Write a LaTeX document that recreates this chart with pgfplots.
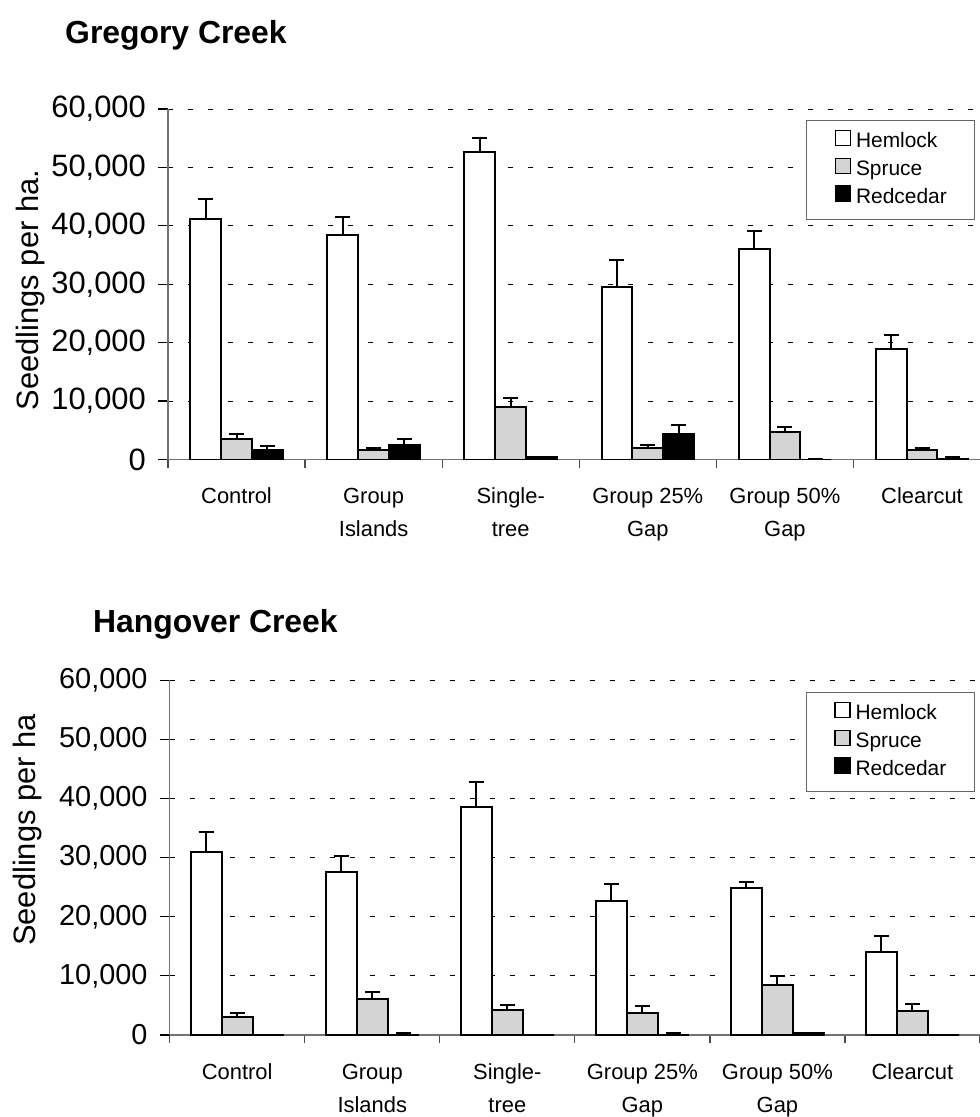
\documentclass[border=0pt]{standalone}
\usepackage{fontspec}
\setmainfont{Liberation Sans}
\usepackage{pgfplots}
\usepackage{pgfplotstable}
\pgfplotsset{compat=1.18}

\pgfplotstableread{
x y e
0 41100 3500
1 38400 3100
2 52700 2300
3 29500 4600
4 36100 3000
5 19000 2300
}\gHem
\pgfplotstableread{
x y e
0 3550 750
1 1550 450
2 9000 1500
3 1950 450
4 4700 800
5 1600 400
}\gSpr
\pgfplotstableread{
x y e
0 1650 650
1 2450 1050
2 450 0
3 4400 1500
4 0 100
5 50 350
}\gRed
\pgfplotstableread{
x y e
0 31000 3300
1 27500 2700
2 38600 4200
3 22600 3000
4 24800 1100
5 14100 2600
}\hHem
\pgfplotstableread{
x y e
0 3050 750
1 6150 1150
2 4200 800
3 3800 1100
4 8400 1500
5 4100 1200
}\hSpr
\pgfplotstableread{
x y e
0 0 50
1 0 400
2 0 50
3 0 400
4 400 0
5 0 50
}\hRed

\pgfplotsset{
  sqlegend/.style={legend image code/.code={\draw[##1,line width=1.2bp] (0bp,-1.7bp) rectangle (15bp,13.3bp);}},
  mybars/.style={
    scale only axis, ybar=0pt, bar width=#1,
    ymin=0, ymax=60000, ytick={0,10000,...,60000},
    scaled y ticks=false,
    yticklabels={0,{10,000},{20,000},{30,000},{40,000},{50,000},{60,000}},
    axis x line*=bottom, axis y line*=left,
    axis line style={black!55, line width=1.3bp},
    ymajorgrids, grid style={black, line width=0.9bp, dash pattern=on 5bp off 15bp},
    tick align=outside, major tick length=10bp, minor tick length=8bp,
    ytick style={black, line width=1.2bp},
    xtick={0,...,5},
    xticklabels={\strut Control,{\strut Group\\Islands},{\strut Single-\\tree},{\strut Group 25\%\\Gap},{\strut Group 50\%\\Gap},\strut Clearcut},
    major x tick style={draw=none},
    minor xtick={-0.5,0.5,...,5.5},
    minor x tick style={black!70, line width=1.2bp},
    xticklabel style={font=\fontsize{22}{33}\selectfont, align=center, anchor=north, inner sep=0pt, yshift=-11.2bp},
    yticklabel style={anchor=east, inner sep=0pt, xshift=-12bp},
    error bars/y dir=plus, error bars/y explicit,
    error bars/error bar style={black, line width=2bp},
    error bars/error mark options={rotate=90, mark size=7.5bp, line width=2bp, black},
    legend style={draw=black!60, line width=1.2bp, font=\fontsize{21}{21}\selectfont,
      inner xsep=28bp, inner ysep=9bp, row sep=3bp,
      nodes={inner sep=0pt, text height=15bp, text depth=7bp},
      cells={anchor=west},
      /tikz/every odd column/.append style={column sep=5bp}},
    legend cell align=left,
  },
  hem/.style={draw=black, line width=2bp, fill=white, sqlegend},
  spr/.style={draw=black, line width=2bp, fill=black!17, sqlegend},
  red/.style={draw=black, line width=2bp, fill=black, sqlegend},
}

\begin{document}
\begin{tikzpicture}
\path[use as bounding box] (0,0) rectangle (980bp,-1117bp);

\node[anchor=base west, inner sep=0pt, font=\fontsize{32}{32}\selectfont\bfseries] at (65bp,-43bp) {Gregory Creek};
\node[anchor=base west, inner sep=0pt, font=\fontsize{32}{32}\selectfont\bfseries] at (93bp,-632.7bp) {Hangover Creek};
\node[rotate=90, anchor=base, inner sep=0pt, font=\fontsize{31}{31}\selectfont] at (38bp,-290bp) {Seedlings per ha.};
\node[rotate=90, anchor=base, inner sep=0pt, font=\fontsize{31}{31}\selectfont] at (35bp,-830bp) {Seedlings per ha};

\begin{axis}[mybars=0.225,
  at={(168bp,-459.5bp)}, anchor=south west,
  width=812bp, height=350.5bp,
  xmin=-0.5, xmax=5.423,
  yticklabel style={font=\fontsize{31}{31}\selectfont},
  legend style={at={(0.786,0.9686)}, anchor=north west},
]
\addplot[hem, bar shift=-0.225] table[x=x,y=y,y error=e] {\gHem};
\addplot[spr, bar shift=0] table[x=x,y=y,y error=e] {\gSpr};
\addplot[red, bar shift=0.225] table[x=x,y=y,y error=e] {\gRed};
\legend{Hemlock,Spruce,Redcedar}
\end{axis}

\begin{axis}[mybars=0.23,
  at={(169.7bp,-1035bp)}, anchor=south west,
  width=810.3bp, height=354.7bp,
  xmin=-0.5, xmax=5.5,
  yticklabel style={font=\fontsize{29}{29}\selectfont},
  legend style={at={(0.785,0.967)}, anchor=north west},
]
\addplot[hem, bar shift=-0.23] table[x=x,y=y,y error=e] {\hHem};
\addplot[spr, bar shift=0] table[x=x,y=y,y error=e] {\hSpr};
\addplot[red, bar shift=0.23] table[x=x,y=y,y error=e] {\hRed};
\legend{Hemlock,Spruce,Redcedar}
\end{axis}
\end{tikzpicture}
\end{document}
